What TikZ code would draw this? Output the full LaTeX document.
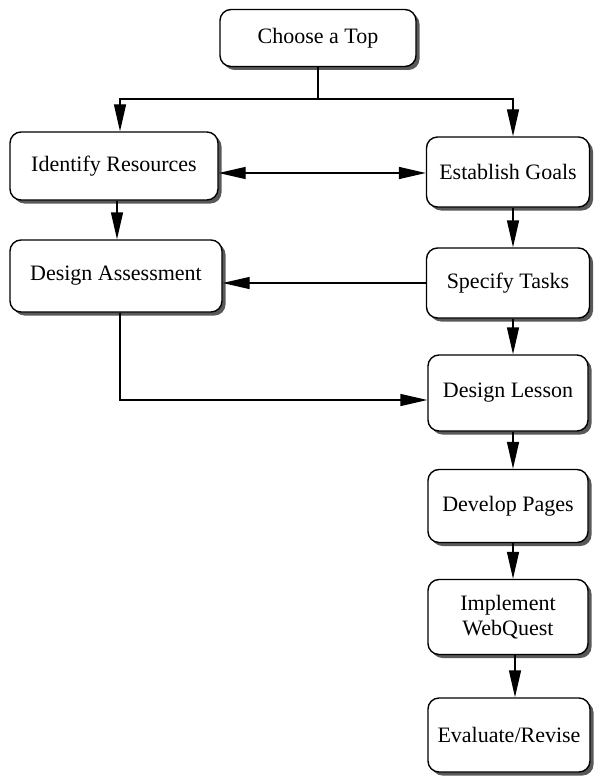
\documentclass[tikz,border=0pt]{standalone}
\usepackage{fontspec}
\setmainfont{Liberation Serif}
\usetikzlibrary{arrows.meta,shadows,calc}
\begin{document}
\begin{tikzpicture}[x=1pt,y=-1pt,
  box/.style={draw=black, line width=1.4pt, rounded corners=11pt, fill=white,
    font=\fontsize{22}{25}\selectfont, align=center, inner sep=2pt,
    drop shadow={shadow xshift=3.5pt, shadow yshift=-3.5pt, fill=black!65, opacity=1}},
  conn/.style={line width=1.4pt},
  tip/.style={Triangle[length=27pt,width=12pt]},
  arr/.style={conn, -{Triangle[length=27pt,width=12pt]}},
  darr/.style={conn, {Triangle[length=27pt,width=12pt]}-{Triangle[length=27pt,width=12pt]}}]
\useasboundingbox (0,0) rectangle (596,778);
\node[box, minimum width=196pt, minimum height=57pt] (top) at (318,38) {Choose a Top};
\node[box, minimum width=208pt, minimum height=68pt] (ir) at (114,166) {Identify Resources};
\node[box, minimum width=163pt, minimum height=70pt] (eg) at (508,172) {Establish Goals};
\node[box, minimum width=212pt, minimum height=72pt] (da) at (116,276) {Design Assessment};
\node[box, minimum width=163pt, minimum height=70pt] (st) at (508,283) {Specify Tasks};
\node[box, minimum width=160pt, minimum height=76pt] (dl) at (508,393) {Design Lesson};
\node[box, minimum width=160pt, minimum height=73pt] (dp) at (508,506) {Develop Pages};
\node[box, minimum width=160pt, minimum height=75pt] (iw) at (508,617) {Implement\\WebQuest};
\node[box, minimum width=162pt, minimum height=74pt] (ev) at (509,735) {Evaluate/Revise};
\coordinate (j) at (318,99);
\coordinate (jl) at (120,99);
\coordinate (jr) at (513,99);
\draw[conn] (top.south) -- (j);
\draw[arr] (j) -- (jl) -- (jl |- ir.north);
\draw[arr] (j) -- (jr) -- (jr |- eg.north);
\draw[darr] (ir.east |- 0,173) -- (eg.west |- 0,173);
\draw[arr] ([xshift=3pt]ir.south) -- ([xshift=1pt]da.north);
\draw[arr] ([xshift=5pt]eg.south) -- ([xshift=5pt]st.north);
\draw[arr] (st.west |- 0,283) -- (da.east |- 0,283);
\coordinate (bl) at (120,400);
\draw[arr] (da.south -| bl) -- (bl) -- (dl.west |- bl);
\draw[arr] ([xshift=5pt]st.south) -- ([xshift=5pt]dl.north);
\draw[arr] ([xshift=5pt]dl.south) -- ([xshift=5pt]dp.north);
\draw[arr] ([xshift=5pt]dp.south) -- ([xshift=5pt]iw.north);
\draw[arr] ([xshift=7pt]iw.south) -- ([xshift=6pt]ev.north);
\end{tikzpicture}
\end{document}
